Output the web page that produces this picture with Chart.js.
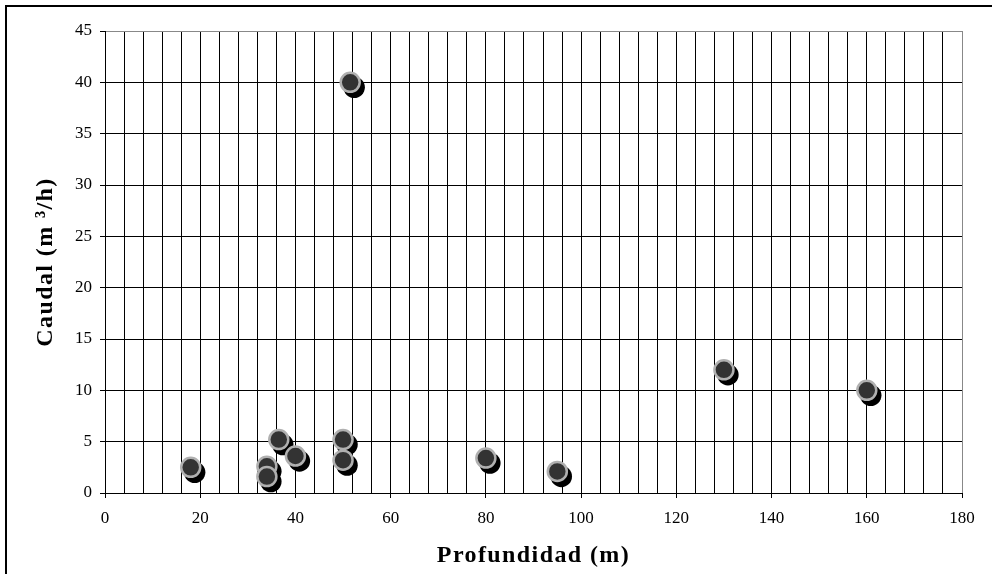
<!DOCTYPE html>
<html>
<head>
<meta charset="utf-8">
<script src="https://cdn.jsdelivr.net/npm/chart.js@4/dist/chart.umd.min.js"></script>
<style>
  body { margin: 0; background: #fff; overflow: hidden; }
  .frame { position: absolute; left: 5px; top: 5px; width: 2000px; height: 2000px; border: 2px solid #000; }
  .wrap { position: absolute; left: 0; top: 0; width: 992px; height: 574px; }
</style>
</head>
<body>
<div class="frame"></div>
<div class="wrap"><canvas id="caudalChart" width="992" height="574"></canvas></div>
<script>
const profundidad = [18, 34, 34, 36.5, 40, 50, 50, 51.5, 80, 95, 130, 160];
const caudal = [2.5, 2.6, 1.6, 5.2, 3.6, 5.2, 3.2, 40, 3.4, 2.1, 12, 10];
const xTitle = 'Profundidad (m)';
const yTitle = 'Caudal (m ³/h)';

const points = profundidad.map((x, i) => ({ x: x, y: caudal[i] }));
const serif = '"Liberation Serif", "Times New Roman", serif';

// shadow dataset is drawn shifted down-right, behind the real points
const shadowPlugin = {
  id: 'shadow',
  beforeDatasetDraw(chart, args) {
    if (args.index === 1) {
      chart.ctx.save();
      chart.ctx.translate(4, 5);
    }
  },
  afterDatasetDraw(chart, args) {
    if (args.index === 1) chart.ctx.restore();
  }
};

const titlesPlugin = {
  id: 'titles',
  afterDraw(chart) {
    const ctx = chart.ctx;
    const area = chart.chartArea;
    ctx.save();
    ctx.fillStyle = '#000';
    ctx.font = 'bold 24px ' + serif;
    ctx.letterSpacing = '1.4px';
    ctx.textAlign = 'center';
    ctx.textBaseline = 'middle';
    ctx.fillText(xTitle, (area.left + area.right) / 2, 556);
    ctx.translate(46, (area.top + area.bottom) / 2);
    ctx.rotate(-Math.PI / 2);
    ctx.fillText(yTitle, 0, 0);
    ctx.restore();
  }
};

const ctx = document.getElementById('caudalChart').getContext('2d');
const caudalChart = new Chart(ctx, {
  type: 'scatter',
  data: {
    datasets: [
      {
        label: 'Caudal',
        data: points,
        pointRadius: 9.5,
        pointHoverRadius: 9.5,
        backgroundColor: '#333333',
        borderColor: '#b0b0b0',
        borderWidth: 2.5,
      },
      {
        label: 'sombra',
        data: points,
        pointRadius: 10.7,
        pointHoverRadius: 10.7,
        backgroundColor: '#000000',
        borderWidth: 0,
      },
    ],
  },
  options: {
    responsive: false,
    devicePixelRatio: 1,
    animation: false,
    layout: { padding: { left: 0, right: 30, top: 31, bottom: 0 } },
    plugins: {
      legend: { display: false },
      tooltip: { enabled: false },
    },
    scales: {
      x: {
        type: 'linear',
        min: 0,
        max: 180,
        afterFit: (scale) => { scale.height = 81; },
        ticks: {
          stepSize: 4,
          autoSkip: false,
          maxRotation: 0,
          padding: 10,
          color: '#000',
          font: { family: serif, size: 17 },
          callback: (v) => (v % 20 === 0 ? v : ''),
        },
        grid: {
          color: (c) => (c.tick && c.tick.value === 180 ? '#888' : '#000'),
          tickColor: (c) => (c.tick && c.tick.value % 20 === 0 ? '#000' : 'rgba(0,0,0,0)'),
          tickLength: 5,
          lineWidth: 1,
        },
        border: { color: '#000', width: 1 },
      },
      y: {
        type: 'linear',
        min: 0,
        max: 45,
        afterFit: (scale) => { scale.width = 105; },
        ticks: {
          stepSize: 5,
          padding: 8,
          color: '#000',
          font: { family: serif, size: 17 },
        },
        grid: {
          color: (c) => (c.tick && c.tick.value === 45 ? '#888' : '#000'),
          tickColor: '#000',
          tickLength: 5,
          lineWidth: 1,
        },
        border: { color: '#000', width: 1 },
      },
    },
  },
  plugins: [shadowPlugin, titlesPlugin],
});
</script>
</body>
</html>
